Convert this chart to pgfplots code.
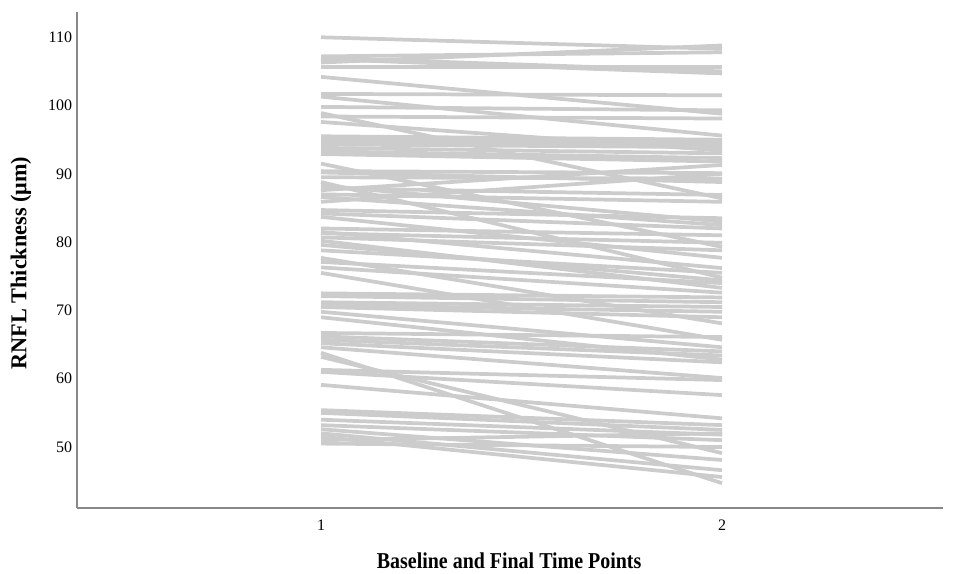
\documentclass[border=0pt]{standalone}
\usepackage{fontspec}
\setmainfont{Liberation Serif}
\usepackage{pgfplots}
\pgfplotsset{compat=1.18}
\definecolor{linegray}{RGB}{204,204,204}
\definecolor{axisgray}{RGB}{136,136,136}
\tikzset{pl/.style={linegray, line width=2.8pt, line cap=butt}}
\begin{document}
\begin{tikzpicture}
\begin{axis}[
    scale only axis,
    width=649.5pt, height=372pt,
    xmin=0.3915, xmax=2.551,
    ymin=41.07, ymax=113.7,
    axis x line=bottom, axis y line=left,
    axis line style={axisgray, line width=1.1pt, -},
    xtick={1,2}, ytick={50,60,...,110},
    major tick length=0pt,
    /pgf/number format/assume math mode=true,
    tick label style={font=\fontsize{12}{14}\selectfont, black},
    yticklabel style={anchor=east, inner sep=0pt, xshift=-3.5pt},
    xticklabel style={anchor=north, inner sep=0pt, yshift=-9pt},
    xlabel={\scalebox{0.88}[1]{Baseline and Final Time Points}},
    ylabel={\scalebox{0.98}[1]{RNFL Thickness (μm)}},
    label style={font=\fontsize{17}{19}\selectfont\bfseries},
    xlabel style={at={(axis description cs:0.499,-0.107)}, anchor=center},
    ylabel style={at={(axis description cs:-0.0647,0.494)}, anchor=center, rotate=0},
    clip=false,
]
\addplot[pl] coordinates {(1,110.0) (2,108.3)};
\addplot[pl] coordinates {(1,107.2) (2,107.8)};
\addplot[pl] coordinates {(1,107.0) (2,105.0)};
\addplot[pl] coordinates {(1,106.8) (2,104.7)};
\addplot[pl] coordinates {(1,106.3) (2,108.8)};
\addplot[pl] coordinates {(1,105.6) (2,105.6)};
\addplot[pl] coordinates {(1,104.2) (2,98.8)};
\addplot[pl] coordinates {(1,101.7) (2,101.5)};
\addplot[pl] coordinates {(1,101.3) (2,95.6)};
\addplot[pl] coordinates {(1,99.8) (2,99.3)};
\addplot[pl] coordinates {(1,98.9) (2,86.4)};
\addplot[pl] coordinates {(1,98.4) (2,98.1)};
\addplot[pl] coordinates {(1,97.6) (2,93.4)};
\addplot[pl] coordinates {(1,95.5) (2,95.0)};
\addplot[pl] coordinates {(1,95.2) (2,94.6)};
\addplot[pl] coordinates {(1,94.8) (2,94.2)};
\addplot[pl] coordinates {(1,94.3) (2,93.9)};
\addplot[pl] coordinates {(1,93.8) (2,93.0)};
\addplot[pl] coordinates {(1,93.3) (2,92.3)};
\addplot[pl] coordinates {(1,92.9) (2,91.8)};
\addplot[pl] coordinates {(1,91.5) (2,79.3)};
\addplot[pl] coordinates {(1,90.4) (2,90.1)};
\addplot[pl] coordinates {(1,90.2) (2,88.8)};
\addplot[pl] coordinates {(1,89.5) (2,89.3)};
\addplot[pl] coordinates {(1,88.8) (2,74.8)};
\addplot[pl] coordinates {(1,88.3) (2,83.0)};
\addplot[pl] coordinates {(1,87.9) (2,86.9)};
\addplot[pl] coordinates {(1,87.6) (2,91.3)};
\addplot[pl] coordinates {(1,87.0) (2,85.9)};
\addplot[pl] coordinates {(1,86.6) (2,82.5)};
\addplot[pl] coordinates {(1,85.9) (2,90.0)};
\addplot[pl] coordinates {(1,84.7) (2,83.5)};
\addplot[pl] coordinates {(1,84.2) (2,82.0)};
\addplot[pl] coordinates {(1,83.7) (2,77.7)};
\addplot[pl] coordinates {(1,82.0) (2,81.0)};
\addplot[pl] coordinates {(1,81.5) (2,76.2)};
\addplot[pl] coordinates {(1,81.3) (2,79.9)};
\addplot[pl] coordinates {(1,80.7) (2,78.8)};
\addplot[pl] coordinates {(1,80.2) (2,73.3)};
\addplot[pl] coordinates {(1,79.6) (2,74.4)};
\addplot[pl] coordinates {(1,78.8) (2,75.5)};
\addplot[pl] coordinates {(1,77.7) (2,68.1)};
\addplot[pl] coordinates {(1,77.1) (2,74.0)};
\addplot[pl] coordinates {(1,76.3) (2,72.6)};
\addplot[pl] coordinates {(1,75.5) (2,65.7)};
\addplot[pl] coordinates {(1,72.5) (2,71.9)};
\addplot[pl] coordinates {(1,72.1) (2,71.2)};
\addplot[pl] coordinates {(1,71.2) (2,70.5)};
\addplot[pl] coordinates {(1,70.8) (2,69.8)};
\addplot[pl] coordinates {(1,70.5) (2,69.0)};
\addplot[pl] coordinates {(1,69.8) (2,64.6)};
\addplot[pl] coordinates {(1,69.0) (2,62.8)};
\addplot[pl] coordinates {(1,66.7) (2,66.1)};
\addplot[pl] coordinates {(1,66.2) (2,64.0)};
\addplot[pl] coordinates {(1,65.7) (2,63.4)};
\addplot[pl] coordinates {(1,65.2) (2,62.4)};
\addplot[pl] coordinates {(1,64.6) (2,60.1)};
\addplot[pl] coordinates {(1,63.8) (2,44.7)};
\addplot[pl] coordinates {(1,63.2) (2,49.1)};
\addplot[pl] coordinates {(1,61.3) (2,59.8)};
\addplot[pl] coordinates {(1,61.0) (2,57.6)};
\addplot[pl] coordinates {(1,59.1) (2,54.2)};
\addplot[pl] coordinates {(1,55.4) (2,53.2)};
\addplot[pl] coordinates {(1,55.0) (2,52.5)};
\addplot[pl] coordinates {(1,54.0) (2,51.8)};
\addplot[pl] coordinates {(1,53.2) (2,51.0)};
\addplot[pl] coordinates {(1,52.6) (2,48.1)};
\addplot[pl] coordinates {(1,52.0) (2,46.6)};
\addplot[pl] coordinates {(1,51.5) (2,45.6)};
\addplot[pl] coordinates {(1,51.0) (2,52.0)};
\addplot[pl] coordinates {(1,50.5) (2,50.0)};
\end{axis}
\path[use as bounding box] ([xshift=-57.75pt,yshift=-48pt]current axis.south west) rectangle ([xshift=11.25pt,yshift=9pt]current axis.north east);
\end{tikzpicture}
\end{document}
